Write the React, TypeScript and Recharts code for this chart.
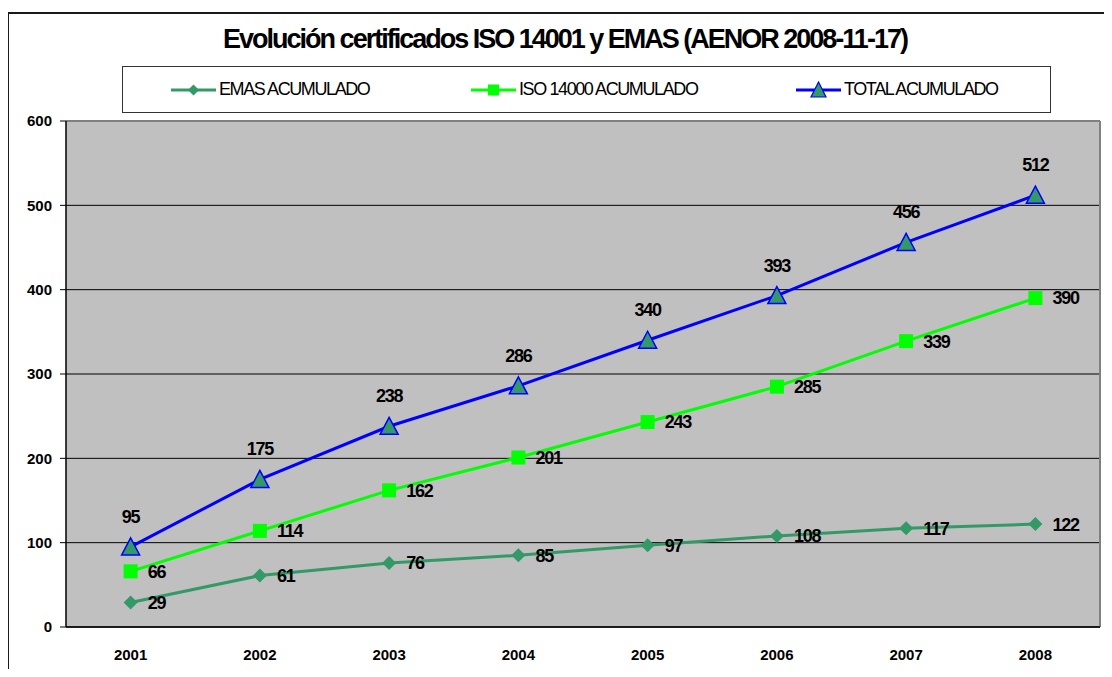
import { LineChart, Line, XAxis, YAxis, CartesianGrid, Legend, LabelList, ReferenceLine } from 'recharts'

const years = [2001, 2002, 2003, 2004, 2005, 2006, 2007, 2008]
const emasAcumulado = [29, 61, 76, 85, 97, 108, 117, 122]
const isoAcumulado = [66, 114, 162, 201, 243, 285, 339, 390]
const totalAcumulado = [95, 175, 238, 286, 340, 393, 456, 512]
const yTicks = [0, 100, 200, 300, 400, 500, 600]
// category boundaries, where Excel puts the x tick marks
const bandEdges = [...years.map((y) => y - 0.5), years[years.length - 1] + 0.5]

const data = years.map((year, i) => ({
  year,
  emas: emasAcumulado[i],
  iso: isoAcumulado[i],
  total: totalAcumulado[i],
}))

const FONT = '"Liberation Sans", Arial, sans-serif'
const GREEN = '#339966'
const LIME = '#00FF00'
const BLUE = '#0000FF'

const series = [
  { key: 'emas', name: 'EMAS ACUMULADO', color: GREEN },
  { key: 'iso', name: 'ISO 14000 ACUMULADO', color: LIME },
  { key: 'total', name: 'TOTAL ACUMULADO', color: BLUE },
]

function Diamond({ cx, cy }: any) {
  if (cx == null || cy == null) return null
  return <path d={`M${cx} ${cy - 7}L${cx + 7} ${cy}L${cx} ${cy + 7}L${cx - 7} ${cy}Z`} fill={GREEN} />
}

function Square({ cx, cy }: any) {
  if (cx == null || cy == null) return null
  return <rect x={cx - 7} y={cy - 7} width={14} height={14} fill={LIME} />
}

function Triangle({ cx, cy }: any) {
  if (cx == null || cy == null) return null
  return <path d={`M${cx} ${cy - 9}L${cx + 9} ${cy + 8}L${cx - 9} ${cy + 8}Z`} fill={GREEN} stroke={BLUE} strokeWidth={1.5} />
}

function LegendSymbol({ k, color }: { k: string; color: string }) {
  return (
    <svg width={45} height={20} style={{ display: 'block' }}>
      <line x1={0} y1={10} x2={45} y2={10} stroke={color} strokeWidth={3} />
      {k === 'emas' && <path d="M22.5 4.5L28 10L22.5 15.5L17 10Z" fill={GREEN} />}
      {k === 'iso' && <rect x={17} y={4.5} width={11} height={11} fill={LIME} />}
      {k === 'total' && <path d="M22.5 2L30 17L15 17Z" fill={GREEN} stroke={BLUE} strokeWidth={1.2} />}
    </svg>
  )
}

const legendLeft = [48, 348, 673]

function ChartLegend() {
  return (
    <div
      style={{
        position: 'relative',
        width: 929,
        height: 47,
        boxSizing: 'border-box',
        border: '1px solid #333',
        background: '#fff',
      }}
    >
      {series.map((s, i) => (
        <div
          key={s.key}
          style={{
            position: 'absolute',
            left: legendLeft[i],
            top: 12,
            display: 'flex',
            alignItems: 'center',
            gap: 3,
            whiteSpace: 'nowrap',
          }}
        >
          <LegendSymbol k={s.key} color={s.color} />
          <span style={{ fontFamily: FONT, fontSize: 18, letterSpacing: -1.4, color: '#000' }}>{s.name}</span>
        </div>
      ))}
    </div>
  )
}

const labelStyle = { fontFamily: FONT, fontSize: 18, fontWeight: 700, fill: '#000', letterSpacing: -1.2 }
const axisTick = { fontFamily: FONT, fontSize: 15, fontWeight: 700, fill: '#000' }

export default function App() {
  return (
    <div style={{ position: 'relative', width: 1106, height: 661, marginLeft: -2, overflow: 'hidden', background: '#fff' }}>
      <div
        style={{
          position: 'absolute',
          left: 1,
          top: 4,
          width: 1300,
          height: 900,
          border: '2px solid #1a1a1a',
        }}
      />
      <div
        style={{
          position: 'absolute',
          left: 559,
          top: 16,
          transform: 'translateX(-50%)',
          whiteSpace: 'nowrap',
          fontFamily: FONT,
          fontSize: 27,
          fontWeight: 700,
          letterSpacing: -2,
          color: '#000',
        }}
      >
        Evolución certificados ISO 14001 y EMAS (AENOR 2008-11-17)
      </div>
      <div style={{ position: 'absolute', left: 0, top: 0 }}>
        <LineChart width={1106} height={661} data={data} margin={{ top: 113, right: 12, left: 0, bottom: 0 }}>
          <CartesianGrid vertical={false} fill="#C0C0C0" stroke="#000" strokeWidth={1} />
          <XAxis
            dataKey="year"
            type="number"
            domain={[2000.5, 2008.5]}
            ticks={years}
            interval={0}
            height={42}
            axisLine={{ stroke: '#000', strokeWidth: 1.5 }}
            tickLine={false}
            tickSize={0}
            tickMargin={22}
            tick={axisTick}
          />
          <XAxis
            xAxisId="edges"
            dataKey="year"
            type="number"
            domain={[2000.5, 2008.5]}
            ticks={bandEdges}
            interval={0}
            height={0}
            axisLine={false}
            tickLine={{ stroke: '#000', strokeWidth: 1 }}
            tickSize={6}
            tick={false}
          />
          <YAxis
            type="number"
            domain={[0, 600]}
            ticks={yTicks}
            interval={0}
            width={60}
            axisLine={{ stroke: '#000', strokeWidth: 1.5 }}
            tickLine={{ stroke: '#000', strokeWidth: 1 }}
            tickSize={6}
            tickMargin={8}
            tick={axisTick}
          />
          <ReferenceLine y={600} stroke="#808080" strokeWidth={2} />
          <ReferenceLine x={2008.5} stroke="#808080" strokeWidth={2} />
          <Legend
            verticalAlign="middle"
            align="center"
            layout="horizontal"
            wrapperStyle={{ left: 116, top: 58, width: 929, height: 47 }}
            content={() => <ChartLegend />}
          />
          <Line
            dataKey="emas"
            name="EMAS ACUMULADO"
            stroke={GREEN}
            strokeWidth={3}
            dot={<Diamond />}
            isAnimationActive={false}
          >
            <LabelList dataKey="emas" position="right" offset={17} style={labelStyle} />
          </Line>
          <Line
            dataKey="iso"
            name="ISO 14000 ACUMULADO"
            stroke={LIME}
            strokeWidth={3}
            dot={<Square />}
            isAnimationActive={false}
          >
            <LabelList dataKey="iso" position="right" offset={17} style={labelStyle} />
          </Line>
          <Line
            dataKey="total"
            name="TOTAL ACUMULADO"
            stroke={BLUE}
            strokeWidth={3}
            dot={<Triangle />}
            isAnimationActive={false}
          >
            <LabelList dataKey="total" position="top" offset={24} style={labelStyle} />
          </Line>
        </LineChart>
      </div>
    </div>
  )
}
